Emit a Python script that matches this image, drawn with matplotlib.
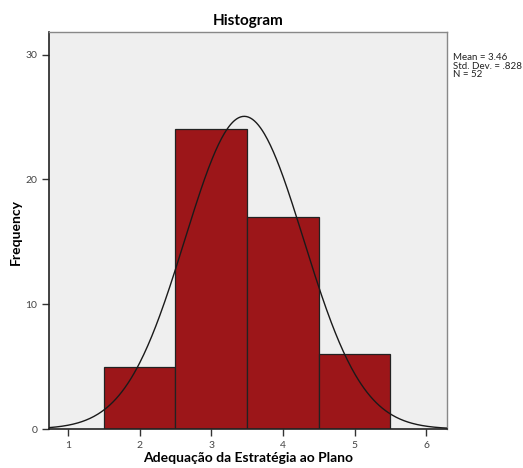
import matplotlib.pyplot as plt
import numpy as np

plt.rcParams['font.family'] = ['Lato', 'DejaVu Sans']

# data
bin_centers = [2, 3, 4, 5]
counts = [5, 24, 17, 6]
mean = 3.46
std = 0.828
n = 52

fig = plt.figure(figsize=(5.23, 4.68), dpi=100)
ax = fig.add_axes([0.0937, 0.0833, 0.761, 0.848])
ax.set_facecolor('#efefef')

ax.bar(bin_centers, counts, width=1.0, color='#9c1619', edgecolor='#222222',
       linewidth=0.9, zorder=2)

xs = np.linspace(0.735, 6.29, 400)
ys = n * 1.0 * np.exp(-0.5 * ((xs - mean) / std) ** 2) / (std * np.sqrt(2 * np.pi))
ax.plot(xs, ys, color='#1a1a1a', lw=1.0, zorder=3)

ax.set_xlim(0.735, 6.29)
ax.set_ylim(0, 31.8)
ax.set_xticks([1, 2, 3, 4, 5, 6])
ax.set_yticks([0, 10, 20, 30])
ax.tick_params(axis='both', direction='out', length=5, width=1, labelsize=7.5,
               colors='#333333', labelcolor='#444444')
for side in ['left', 'bottom']:
    ax.spines[side].set_color('#222222')
    ax.spines[side].set_linewidth(1.2)
for side in ['top', 'right']:
    ax.spines[side].set_color('#888888')
    ax.spines[side].set_linewidth(1.0)

fig.text(248 / 523, 1 - 458 / 468, 'Adequação da Estratégia ao Plano', fontsize=10,
         fontweight='bold', ha='center', va='center')
fig.text(16 / 523, 1 - 232 / 468, 'Frequency', fontsize=10, fontweight='bold',
         rotation=90, ha='center', va='center')
ax.set_title('Histogram', fontsize=11, fontweight='bold', pad=5)

fig.text(0.866, 0.887, 'Mean = 3.46\nStd. Dev. = .828\nN = 52', fontsize=7,
         va='top', ha='left', linespacing=0.95, color='#222222')

fig.savefig('out.png', dpi=100)
